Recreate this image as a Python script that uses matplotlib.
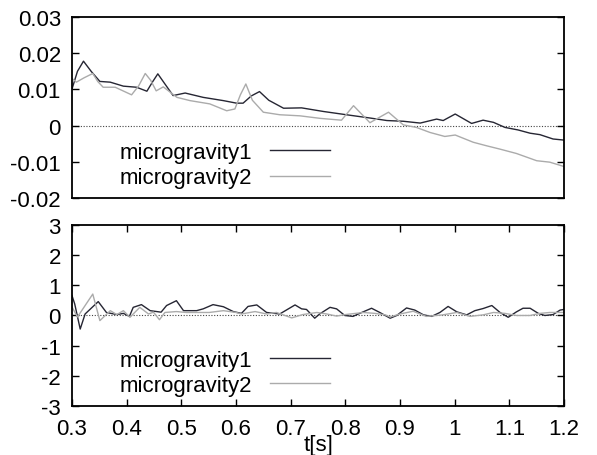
import numpy as np
import matplotlib.pyplot as plt
from matplotlib.ticker import FuncFormatter, MultipleLocator

plt.rcParams['font.family'] = ['Liberation Sans', 'DejaVu Sans']
plt.rcParams['font.size'] = 16
plt.rcParams['axes.unicode_minus'] = False

# upper panel: acceleration offset
t1_top = [0.300, 0.310, 0.321, 0.335, 0.351, 0.370, 0.394, 0.418, 0.437, 0.447,
          0.457, 0.470, 0.485, 0.507, 0.540, 0.577, 0.601, 0.613, 0.628, 0.643,
          0.660, 0.687, 0.720, 0.760, 0.802, 0.845, 0.876, 0.906, 0.937, 0.967,
          0.979, 1.001, 1.031, 1.052, 1.071, 1.092, 1.116, 1.138, 1.156, 1.180,
          1.200]
g1_top = [0.0101, 0.0150, 0.0178, 0.0150, 0.0122, 0.0120, 0.0109, 0.0106, 0.0095, 0.0120,
          0.0143, 0.0115, 0.0083, 0.0090, 0.0078, 0.0069, 0.0062, 0.0062, 0.0082, 0.0094,
          0.0070, 0.0048, 0.0049, 0.0039, 0.0030, 0.0021, 0.0014, 0.0012, 0.0007, 0.0018,
          0.0014, 0.0032, 0.0006, 0.0015, 0.0009, -0.0005, -0.0012, -0.0021, -0.0025, -0.0037,
          -0.0040]

t2_top = [0.300, 0.308, 0.322, 0.338, 0.347, 0.357, 0.379, 0.409, 0.422, 0.434,
          0.444, 0.454, 0.467, 0.492, 0.516, 0.552, 0.583, 0.598, 0.608, 0.618,
          0.630, 0.650, 0.680, 0.717, 0.754, 0.793, 0.815, 0.845, 0.879, 0.906,
          0.930, 0.955, 0.982, 1.001, 1.034, 1.059, 1.083, 1.113, 1.150, 1.174,
          1.200]
g2_top = [0.0130, 0.0120, 0.0132, 0.0144, 0.0122, 0.0106, 0.0106, 0.0085, 0.0110, 0.0144,
          0.0125, 0.0096, 0.0107, 0.0078, 0.0069, 0.0060, 0.0041, 0.0046, 0.0085, 0.0115,
          0.0070, 0.0037, 0.0030, 0.0027, 0.0020, 0.0015, 0.0055, 0.0008, 0.0037, 0.0002,
          -0.0005, -0.0019, -0.0030, -0.0026, -0.0046, -0.0056, -0.0065, -0.0077, -0.0097, -0.0101,
          -0.0113]

# lower panel: oscillation
t1_bot = [0.300, 0.305, 0.315, 0.324, 0.348, 0.363, 0.382, 0.394, 0.405, 0.412,
          0.427, 0.443, 0.463, 0.473, 0.491, 0.504, 0.528, 0.540, 0.558, 0.577,
          0.595, 0.610, 0.622, 0.638, 0.656, 0.680, 0.708, 0.720, 0.729, 0.744,
          0.753, 0.772, 0.784, 0.799, 0.814, 0.830, 0.848, 0.863, 0.882, 0.894,
          0.912, 0.927, 0.943, 0.958, 0.973, 0.988, 1.004, 1.022, 1.037, 1.052,
          1.068, 1.083, 1.098, 1.113, 1.125, 1.138, 1.153, 1.165, 1.180, 1.193,
          1.200]
g1_bot = [0.66, 0.38, -0.45, 0.05, 0.46, 0.10, 0.03, 0.07, -0.03, 0.27,
          0.36, 0.16, 0.11, 0.33, 0.49, 0.16, 0.16, 0.22, 0.36, 0.29,
          0.13, 0.07, 0.30, 0.35, 0.10, 0.05, 0.35, 0.22, 0.20, -0.09,
          0.05, 0.27, 0.22, 0.00, -0.03, 0.10, 0.24, 0.10, -0.09, 0.00,
          0.25, 0.18, 0.02, -0.03, 0.10, 0.30, 0.12, 0.02, 0.16, 0.23,
          0.33, 0.10, -0.06, 0.12, 0.24, 0.24, 0.07, 0.00, 0.03, 0.18,
          0.20]

t2_bot = [0.300, 0.310, 0.338, 0.351, 0.370, 0.382, 0.394, 0.406, 0.424, 0.440,
          0.449, 0.460, 0.470, 0.491, 0.509, 0.528, 0.551, 0.577, 0.600, 0.610,
          0.635, 0.656, 0.674, 0.702, 0.722, 0.748, 0.766, 0.784, 0.800, 0.833,
          0.854, 0.873, 0.882, 0.900, 0.924, 0.948, 0.978, 1.004, 1.028, 1.052,
          1.071, 1.092, 1.113, 1.138, 1.156, 1.174, 1.200]
g2_bot = [0.28, -0.05, 0.71, -0.17, 0.16, 0.03, 0.16, -0.06, 0.27, 0.05,
          0.11, -0.14, 0.10, 0.13, 0.10, 0.10, 0.10, 0.16, 0.10, 0.05,
          0.13, 0.05, 0.10, -0.08, 0.03, 0.10, 0.05, -0.02, 0.03, 0.10,
          0.07, 0.02, -0.05, 0.05, 0.14, -0.03, 0.02, 0.10, -0.03, 0.02,
          0.10, 0.07, 0.00, 0.00, 0.07, 0.10, 0.10]

labels = ['microgravity1', 'microgravity2']
dark = '#262633'
light = '#ababab'

fig = plt.figure(figsize=(5.97, 4.56), dpi=100)
ax1 = fig.add_axes([0.1206, 0.5636, 0.8241, 0.3969])
ax2 = fig.add_axes([0.1206, 0.1075, 0.8241, 0.3969])

fmt = FuncFormatter(lambda v, p: '%g' % round(v, 6))


def style(ax, xticks):
    for s in ax.spines.values():
        s.set_linewidth(1.3)
    ax.axhline(0, color='#444444', lw=0.8, ls=(0, (1, 1.5)), zorder=1)
    ax.set_xlim(0.3, 1.2)
    ax.yaxis.set_major_formatter(fmt)
    ax.tick_params(axis='y', direction='in', length=5, width=1, left=True, right=True, pad=8)
    if xticks:
        ax.xaxis.set_major_locator(MultipleLocator(0.1))
        ax.xaxis.set_major_formatter(fmt)
        ax.tick_params(axis='x', direction='in', length=5, width=1, top=True, bottom=True, pad=9)
    else:
        ax.tick_params(axis='x', bottom=False, labelbottom=False)


ax1.plot(t1_top, g1_top, color=dark, lw=1.0, label=labels[0])
ax1.plot(t2_top, g2_top, color=light, lw=1.0, label=labels[1])
ax1.set_ylim(-0.02, 0.03)
ax1.yaxis.set_major_locator(MultipleLocator(0.01))
style(ax1, False)

ax2.plot(t1_bot, g1_bot, color=dark, lw=1.0, label=labels[0])
ax2.plot(t2_bot, g2_bot, color=light, lw=1.0, label=labels[1])
ax2.set_ylim(-3, 3)
ax2.yaxis.set_major_locator(MultipleLocator(1))
style(ax2, True)

for ax in (ax1, ax2):
    ax.legend(loc='lower left', bbox_to_anchor=(0.07, -0.02), frameon=False,
              markerfirst=False, handlelength=2.7, handletextpad=0.8,
              labelspacing=0.2, borderaxespad=0.2)

fig.text(0.533, 0.022, 't[s]', ha='center', va='center', fontsize=16)

fig.savefig('out.png', dpi=100)
